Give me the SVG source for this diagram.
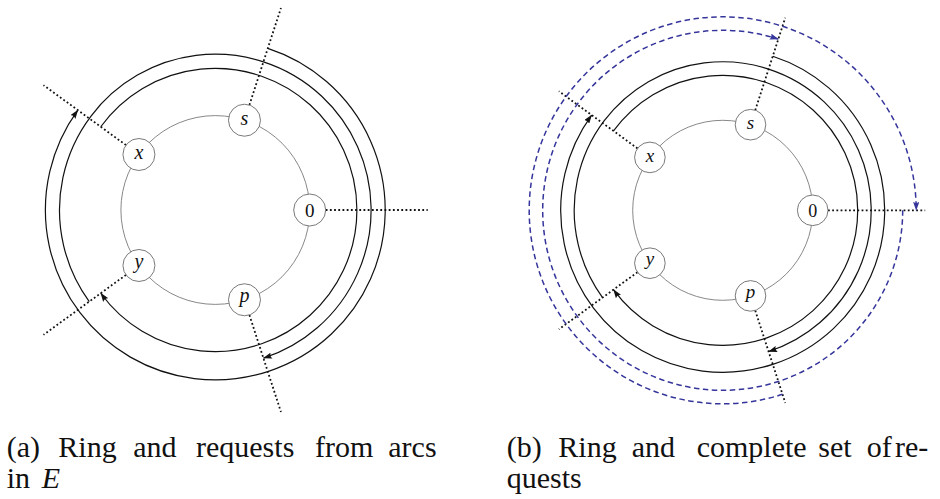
<svg xmlns="http://www.w3.org/2000/svg" width="940" height="499" viewBox="0 0 940 499">
<style>
.ring{fill:none;stroke:#7a7a7a;stroke-width:0.9}
.node circle{fill:#fff;stroke:#6a6a6a;stroke-width:0.9}
.arc{fill:none;stroke:#111;stroke-width:1.2;marker-end:url(#ah)}
.blue{fill:none;stroke:#35359b;stroke-width:1.5;stroke-dasharray:5.5 3.5;marker-end:url(#ahb)}
.dot{fill:none;stroke:#111;stroke-width:1.8;stroke-dasharray:1.8 2.4}
</style>
<defs>
<marker id="ah" viewBox="0 0 10 7" refX="9.5" refY="3.5" markerWidth="9" markerHeight="6.3" markerUnits="userSpaceOnUse" orient="auto"><path d="M0,0 L10,3.5 L0,7 Q2.5,3.5 0,0z" fill="#111"/></marker>
<marker id="ahb" viewBox="0 0 10 7" refX="9.5" refY="3.5" markerWidth="9" markerHeight="6.3" markerUnits="userSpaceOnUse" orient="auto"><path d="M0,0 L10,3.5 L0,7 Q2.5,3.5 0,0z" fill="#35359b"/></marker>
</defs>

<circle class="ring" cx="215.3" cy="210" r="94.4"/>
<g id="a-connectors">
<path class="dot" d="M325.7,210 L427.7,210"/>
<path class="dot" d="M249.42,315 L280.94,412"/>
<path class="dot" d="M125.98,274.89 L43.46,334.85"/>
<path class="dot" d="M125.98,145.11 L43.46,85.15"/>
<path class="dot" d="M249.42,105 L280.94,8"/>
<path class="arc" d="M100.74,126.77 A141.6,141.6 0 1 1 100.74,293.23"/>
<path class="arc" d="M89.25,301.58 A155.8,155.8 0 1 1 263.45,358.18"/>
<path class="arc" d="M267.8,48.41 A169.9,169.9 0 1 1 77.85,110.13"/>
</g>
<g id="a-node-0" class="node"><circle cx="309.7" cy="210" r="16"/><text x="309.7" y="216.8" font-family="Liberation Serif, serif" font-size="19" text-anchor="middle" fill="#111">0</text></g>
<g id="a-node-p" class="node"><circle cx="244.47" cy="299.78" r="16"/><text x="244.47" y="302.3" font-family="Liberation Serif, serif" font-style="italic" font-size="20" text-anchor="middle" fill="#111">p</text></g>
<g id="a-node-y" class="node"><circle cx="138.93" cy="265.49" r="16"/><text x="138.93" y="267.6" font-family="Liberation Serif, serif" font-style="italic" font-size="20" text-anchor="middle" fill="#111">y</text></g>
<g id="a-node-x" class="node"><circle cx="138.93" cy="154.51" r="16"/><text x="138.93" y="159.2" font-family="Liberation Serif, serif" font-style="italic" font-size="20" text-anchor="middle" fill="#111">x</text></g>
<g id="a-node-s" class="node"><circle cx="244.47" cy="120.22" r="16"/><text x="244.47" y="125" font-family="Liberation Serif, serif" font-style="italic" font-size="20" text-anchor="middle" fill="#111">s</text></g>

<circle class="ring" cx="722.7" cy="210.3" r="90"/>
<g id="b-connectors">
<path class="dot" d="M828,210.3 L925.2,210.3"/>
<path class="dot" d="M755.24,310.45 L785.28,402.89"/>
<path class="dot" d="M637.51,272.19 L558.87,329.33"/>
<path class="dot" d="M637.51,148.41 L558.87,91.27"/>
<path class="dot" d="M755.24,110.15 L785.28,17.71"/>
<path class="arc" d="M613.48,130.95 A135,135 0 1 1 613.48,289.65"/>
<path class="arc" d="M602.56,297.59 A148.5,148.5 0 1 1 768.59,351.53"/>
<path class="arc" d="M772.76,56.23 A162,162 0 1 1 591.64,115.08"/>
<path class="blue" d="M902.7,210.3 A180,180 0 1 1 778.32,39.11"/>
<path class="blue" d="M782.5,394.33 A193.5,193.5 0 1 1 916.2,210.3"/>
</g>
<g id="b-node-0" class="node"><circle cx="812.7" cy="210.3" r="15.3"/><text x="812.7" y="216.8" font-family="Liberation Serif, serif" font-size="18" text-anchor="middle" fill="#111">0</text></g>
<g id="b-node-p" class="node"><circle cx="750.51" cy="295.9" r="15.3"/><text x="750.51" y="298.3" font-family="Liberation Serif, serif" font-style="italic" font-size="19" text-anchor="middle" fill="#111">p</text></g>
<g id="b-node-y" class="node"><circle cx="649.89" cy="263.2" r="15.3"/><text x="649.89" y="265.2" font-family="Liberation Serif, serif" font-style="italic" font-size="19" text-anchor="middle" fill="#111">y</text></g>
<g id="b-node-x" class="node"><circle cx="649.89" cy="157.4" r="15.3"/><text x="649.89" y="161.9" font-family="Liberation Serif, serif" font-style="italic" font-size="19" text-anchor="middle" fill="#111">x</text></g>
<g id="b-node-s" class="node"><circle cx="750.51" cy="124.7" r="15.3"/><text x="750.51" y="129.3" font-family="Liberation Serif, serif" font-style="italic" font-size="19" text-anchor="middle" fill="#111">s</text></g>

<text y="456.7" font-family="Liberation Serif, serif" font-size="30" fill="#111"><tspan x="6.7">(a)</tspan><tspan x="58.3">Ring</tspan><tspan x="133.3">and</tspan><tspan x="196">requests</tspan><tspan x="315">from</tspan><tspan x="388.3">arcs</tspan></text>
<text y="488.3" font-family="Liberation Serif, serif" font-size="30" fill="#111"><tspan x="6.7">in</tspan><tspan x="41.7" font-style="italic">E</tspan></text>
<text y="456.7" font-family="Liberation Serif, serif" font-size="30" fill="#111"><tspan x="506.7">(b)</tspan><tspan x="558.3">Ring</tspan><tspan x="631.7">and</tspan><tspan x="696.7">complete</tspan><tspan x="818.3">set</tspan><tspan x="866.7">of</tspan><tspan x="895">re-</tspan></text>
<text y="488.3" font-family="Liberation Serif, serif" font-size="30" fill="#111"><tspan x="506.7">quests</tspan></text>
</svg>
